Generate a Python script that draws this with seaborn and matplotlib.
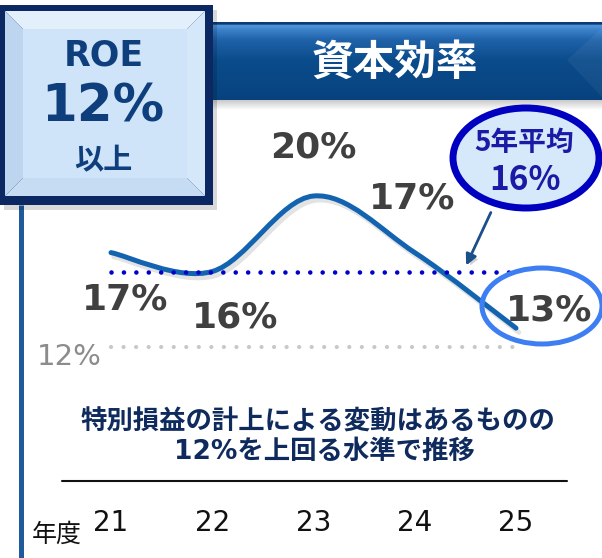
import numpy as np
import pandas as pd
import matplotlib
matplotlib.use("Agg")
import matplotlib.pyplot as plt
import matplotlib.patches as mpatches
import matplotlib.patheffects as pe
from matplotlib.path import Path
from matplotlib import transforms
from matplotlib.colors import to_rgb
import seaborn as sns

# ---------------- data ----------------
years = [21, 22, 23, 24, 25]
year_labels = ["21", "22", "23", "24", "25"]
roe = [17, 16, 20, 17, 13]
avg_5yr = 16
target = 12
title = "資本効率"
target_box = ["ROE", "12%", "以上"]
note_lines = ["特別損益の計上による変動はあるものの", "12%を上回る水準で推移"]
avg_label = "5年平均"
year_axis_label = "年度"

sns.set_theme(style="white")
plt.rcParams["font.family"] = ["DejaVu Sans", "Noto Sans CJK JP"]
CJK = ["Noto Sans CJK JP", "DejaVu Sans"]
MIX = ["DejaVu Sans", "Noto Sans CJK JP"]

W, H = 602, 558
fig = plt.figure(figsize=(W / 100, H / 100), dpi=100)
fig.patch.set_facecolor("white")

bg = fig.add_axes([0, 0, 1, 1], zorder=0)
fg = fig.add_axes([0, 0, 1, 1], zorder=2)
for a in (bg, fg):
    a.axis("off")
    a.patch.set_alpha(0)

# chart axes (pixel frame of the plotted region)
x0px, x1px, ytop, ybot = 111, 516, 196, 347
ax = fig.add_axes([x0px / W, (H - ybot) / H, (x1px - x0px) / W, (ybot - ytop) / H], zorder=1)
ax.patch.set_alpha(0)

# ---------------- decorations: header ----------------
stops_y = [22, 24, 25, 30, 40, 60, 100]
stop_cols = ['#0b3a74', '#0b3a74', '#5598dc', '#3a80c9', '#1f62a8', '#0b4c8c', '#07427e']
rows = np.linspace(22, 100, 157)
grad = np.stack([np.interp(rows, stops_y, [to_rgb(c)[k] for c in stop_cols]) for k in range(3)], axis=1)[:, None, :]
bg.imshow(grad, extent=[213, 602, 100, 22], aspect="auto", interpolation="bilinear", zorder=1)
bg.add_patch(mpatches.Polygon([(567, 60), (602, 28), (602, 97)], closed=True, fc="white", alpha=0.05, ec="none", zorder=2))
sh = np.zeros((20, 1, 4))
sh[:, 0, :3] = 0.3
sh[:, 0, 3] = np.linspace(0.3, 0.0, 20)
bg.imshow(sh, extent=[213, 602, 110, 100], aspect="auto", interpolation="bilinear", zorder=1)
bg.text(395, 63, title, ha="center", va="center", fontsize=30, fontweight="bold",
        color="white", family=CJK, zorder=3)

# ---------------- decorations: target box ----------------
bg.add_patch(mpatches.Rectangle((4, 10), 213, 200, fc="#000000", alpha=0.15, ec="none", zorder=3))
bg.add_patch(mpatches.Rectangle((0, 5), 213, 200, fc="#0b2863", ec="none", zorder=4))
bx0, bx1, by0, by1, b = 5, 205, 11, 196, 18
bands = [
    ([(bx0, by0), (bx1, by0), (bx1 - b, by0 + b), (bx0 + b, by0 + b)], "#e3f0fc"),
    ([(bx0, by0), (bx0 + b, by0 + b), (bx0 + b, by1 - b), (bx0, by1)], "#bdd5ee"),
    ([(bx1, by0), (bx1, by1), (bx1 - b, by1 - b), (bx1 - b, by0 + b)], "#d5e8fa"),
    ([(bx0, by1), (bx1, by1), (bx1 - b, by1 - b), (bx0 + b, by1 - b)], "#c6dcf3"),
]
for poly, c in bands:
    bg.add_patch(mpatches.Polygon(poly, closed=True, fc=c, ec="none", zorder=5))
bg.add_patch(mpatches.Rectangle((bx0 + b, by0 + b), bx1 - bx0 - 2 * b, by1 - by0 - 2 * b,
                                fc="#cfe4f8", ec="none", zorder=5))
box_col = "#0e3f7c"
bg.text(104, 55, target_box[0], ha="center", va="center", fontsize=25, fontweight="bold", color=box_col, zorder=6)
bg.text(103, 108, target_box[1], ha="center", va="center", fontsize=37, fontweight="bold", color=box_col, zorder=6)
bg.text(103, 160, target_box[2], ha="center", va="center", fontsize=21, fontweight="bold", color=box_col,
        family=CJK, zorder=6)

# left vertical rule and bottom separator
bg.plot([21, 21], [205, 558], color="#1f5a9c", lw=3.6, solid_capstyle="butt", zorder=2)
bg.plot([62, 567], [481, 481], color="#111111", lw=1.5, zorder=2)

# note text
note_col = "#0f2a5c"
bg.text(318, 422, note_lines[0], ha="center", va="center", fontsize=19, fontweight="bold", color=note_col, family=CJK)
bg.text(324, 452, note_lines[1], ha="center", va="center", fontsize=19, fontweight="bold", color=note_col, family=MIX)
bg.text(57, 535, year_axis_label, ha="center", va="center", fontsize=18, color="#111111", family=CJK)

bg.set_xlim(0, W); bg.set_ylim(H, 0)

# ---------------- chart ----------------
ax.set_xlim(years[0], years[-1])
ax.set_ylim(target, max(roe))
ax.axis("off")

sns.lineplot(x=years, y=[target] * len(years), ax=ax, color="#c8c8c8", lw=3.0,
             linestyle=(0, (0.01, 3.0)), clip_on=False)
ax.lines[-1].set_dash_capstyle("round")
sns.lineplot(x=years, y=[avg_5yr] * len(years), ax=ax, color="#0000cc", lw=3.3,
             linestyle=(0, (0.01, 2.7)), clip_on=False)
ax.lines[-1].set_dash_capstyle("round")

# smoothed ROE line (bezier through the data points)
pts = np.column_stack([years, roe]).astype(float)
n = len(pts)
verts = [pts[0]]
codes = [Path.MOVETO]
for i in range(n - 1):
    p_prev = pts[max(i - 1, 0)]
    p0 = pts[i]
    p1 = pts[i + 1]
    p_next = pts[min(i + 2, n - 1)]
    verts += [p0 + (p1 - p_prev) / 6, p1 - (p_next - p0) / 6, p1]
    codes += [Path.CURVE4] * 3
curve = mpatches.PathPatch(Path(verts, codes), fill=False, edgecolor="#1263b0", lw=3.6,
                           capstyle="round", clip_on=False,
                           path_effects=[pe.SimpleLineShadow(offset=(2, -3), alpha=0.12), pe.Normal()])
ax.add_patch(curve)

label_offsets = [(14, -47), (23, -46), (0, 49), (-3, 54), (33, 18)]
for x, v, (dx, dy) in zip(years, roe, label_offsets):
    ax.annotate(f"{v}%", xy=(x, v), xytext=(dx, dy), textcoords="offset pixels",
                ha="center", va="center", fontsize=26, fontweight="bold", color="#404040",
                annotation_clip=False)
ax.annotate(f"{target}%", xy=(years[0], target), xytext=(-42, -10), textcoords="offset pixels",
            ha="center", va="center", fontsize=21, color="#8c8c8c", annotation_clip=False)

blend = transforms.blended_transform_factory(ax.transData, bg.transData)
for x, lab in zip(years, year_labels):
    ax.text(x, 523, lab, transform=blend, ha="center", va="center", fontsize=20, color="#111111", clip_on=False)

# ---------------- foreground callouts ----------------
fg.add_patch(mpatches.Ellipse((542, 306), 120, 76, fill=False, ec="#3d7ff2", lw=3.6, zorder=3))
fg.add_patch(mpatches.Ellipse((526, 158), 146, 100, fc="#d6e9fb", ec="#0000c0", lw=5, zorder=4))
fg.text(524, 143, avg_label, ha="center", va="center", fontsize=20, fontweight="bold", color="#1a1aa6",
        family=CJK, zorder=5)
fg.text(525, 180, f"{avg_5yr}%", ha="center", va="center", fontsize=24, fontweight="bold", color="#1a1aa6",
        family=CJK, zorder=5)
arr = mpatches.FancyArrowPatch((492, 210), (465, 268), arrowstyle="-|>", mutation_scale=16,
                               color="#1b4f8a", lw=2, zorder=3,
                               path_effects=[pe.SimplePatchShadow(offset=(2, -2), alpha=0.2), pe.Normal()])
fg.add_patch(arr)
fg.set_xlim(0, W); fg.set_ylim(H, 0)

fig.savefig("out.png", dpi=100)
